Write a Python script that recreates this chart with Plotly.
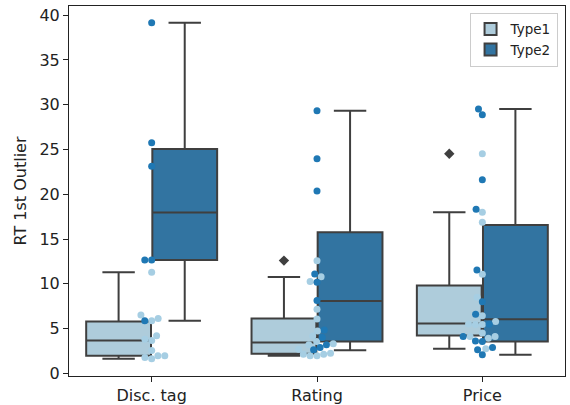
import colorsys
import numpy as np
import plotly.graph_objects as go

# ---------------- data ----------------
categories = ["Disc. tag", "Rating", "Price"]
hues = ["Type1", "Type2"]

# swarm points
type1_points = {
    "Disc. tag": [11.3, 6.5, 6.12, 5.86, 4.2, 3.8, 3.66, 2.55, 1.95, 1.95, 1.77, 1.62],
    "Rating": [12.56, 10.8, 10.25, 7.16, 6.08, 4.74, 4.18, 3.55, 3.3, 3.18, 2.7,
               2.25, 2.14, 2.14, 1.95, 1.95],
    "Price": [24.53, 17.99, 16.87, 11.07, 8.5, 6.42, 5.79, 5.5, 5.45, 5.45, 4.49,
              4.1, 4.1, 3.93, 2.73],
}
type2_points = {
    "Disc. tag": [39.15, 25.76, 23.12, 12.67, 12.67, 5.86],
    "Rating": [29.33, 23.97, 20.37, 11.1, 10.18, 8.13, 4.85, 4.0, 3.18, 2.88, 2.62],
    "Price": [29.52, 28.88, 21.63, 18.32, 11.55, 8.0, 6.6, 5.49, 4.1, 3.62, 3.55,
              2.88, 2.62, 2.06],
}

# box statistics per category (Type1, Type2)
type1_q1 = [1.95, 2.18, 4.22]
type1_median = [3.66, 3.44, 5.56]
type1_q3 = [5.78, 6.12, 9.80]
type1_low = [1.62, 1.95, 2.73]
type1_high = [11.3, 10.77, 17.99]

type2_q1 = [12.67, 3.55, 3.55]
type2_median = [17.95, 8.09, 6.05]
type2_q3 = [25.06, 15.76, 16.57]
type2_low = [5.86, 2.59, 2.06]
type2_high = [39.15, 29.33, 29.52]

# outliers (fliers) of Type1
flier_categories = ["Rating", "Price"]
flier_values = [12.59, 24.53]

y_ticks = [0, 5, 10, 15, 20, 25, 30, 35, 40]

# ---------------- style ----------------
light = "#a6cee3"
dark = "#1f78b4"
gray = "#3f3f3f"
FONT = "DejaVu Sans"

W, H = 570, 405
ML, MR, MT, MB = 69, 5, 6, 29
XR = [-0.5, 2.5]
YR = [-0.30, 41.03]
ppx = (W - ML - MR) / (XR[1] - XR[0])
ppy = (H - MT - MB) / (YR[1] - YR[0])


def desat(hexc, p=0.75):
    r, g, b = (int(hexc[i:i + 2], 16) / 255 for i in (1, 3, 5))
    h, l, s = colorsys.rgb_to_hls(r, g, b)
    r, g, b = colorsys.hls_to_rgb(h, l, s * p)
    return "#%02x%02x%02x" % (round(r * 255), round(g * 255), round(b * 255))


def swarm(vals, d):
    """Beeswarm offsets in pixels for the values (sorted placement)."""
    vals = np.asarray(vals, float)
    order = np.argsort(vals, kind="stable")
    placed = []
    offs = np.zeros(len(vals))
    for i in order:
        y = vals[i] * ppy
        neigh = [(px, py) for px, py in placed if abs(py - y) < d]
        cands = [0.0]
        for px, py in neigh:
            dx = np.sqrt(max(d * d - (py - y) ** 2, 0))
            cands += [px - dx, px + dx]
        cands = sorted(cands, key=abs)
        chosen = cands[-1]
        for c in cands:
            if all((c - px) ** 2 + (y - py) ** 2 >= d * d - 1e-6 for px, py in neigh):
                chosen = c
                break
        placed.append((chosen, y))
        offs[i] = chosen
    return offs


fig = go.Figure()

cat_pos = {c: i for i, c in enumerate(categories)}
box_w = 0.392

fig.add_trace(go.Box(
    name="Type1", x=[i - 0.2 for i in range(3)],
    q1=type1_q1, median=type1_median, q3=type1_q3,
    lowerfence=type1_low, upperfence=type1_high,
    width=box_w, whiskerwidth=0.5, boxpoints=False,
    fillcolor=desat(light), line=dict(color=gray, width=2),
))
fig.add_trace(go.Box(
    name="Type2", x=[i + 0.2 for i in range(3)],
    q1=type2_q1, median=type2_median, q3=type2_q3,
    lowerfence=type2_low, upperfence=type2_high,
    width=box_w, whiskerwidth=0.5, boxpoints=False,
    fillcolor=desat(dark), line=dict(color=gray, width=2),
))

fig.add_trace(go.Scatter(
    x=[cat_pos[c] - 0.2 for c in flier_categories], y=flier_values,
    mode="markers", showlegend=False, hoverinfo="skip",
    marker=dict(symbol="diamond", size=8, color=gray),
))

# swarm points: both hues swarm together at the category centre
for c in categories:
    v1 = type1_points[c]
    v2 = type2_points[c]
    allv = v1 + v2
    offs = swarm(allv, 6.9)
    xs = cat_pos[c] + offs / ppx
    n1 = len(v1)
    fig.add_trace(go.Scatter(
        x=xs[:n1], y=v1, mode="markers", showlegend=False, hoverinfo="skip",
        marker=dict(size=7, color=light, line=dict(width=0)),
    ))
    fig.add_trace(go.Scatter(
        x=xs[n1:], y=v2, mode="markers", showlegend=False, hoverinfo="skip",
        marker=dict(size=7, color=dark, line=dict(width=0)),
    ))

axis_common = dict(
    showline=True, linecolor="#222222", linewidth=1.1, mirror=True,
    ticks="outside", ticklen=5, tickwidth=1.1, tickcolor="#222222",
    showgrid=False, zeroline=False, automargin=False,
    tickfont=dict(family=FONT, size=16, color="#222222"),
)

fig.update_layout(
    width=W, height=H,
    margin=dict(l=ML, r=MR, t=MT, b=MB),
    paper_bgcolor="white", plot_bgcolor="white",
    boxmode="overlay",
    font=dict(family=FONT, size=16, color="#222222"),
    xaxis=dict(range=XR, tickvals=[0, 1, 2], ticktext=categories, **axis_common),
    yaxis=dict(range=YR, tickvals=y_ticks,
               title=dict(text="RT 1st Outlier", standoff=8,
                          font=dict(family=FONT, size=16, color="#222222")),
               **axis_common),
    legend=dict(
        x=0.985, y=0.982, xanchor="right", yanchor="top",
        bgcolor="rgba(255,255,255,0.8)", bordercolor="#cccccc", borderwidth=1,
        font=dict(family=FONT, size=13.5, color="#222222"),
        tracegroupgap=2,
    ),
)

fig.write_html(
    "out.html",
    config={"displayModeBar": False},
    post_script="document.body.style.margin='0';document.body.style.overflow='hidden';",
)
